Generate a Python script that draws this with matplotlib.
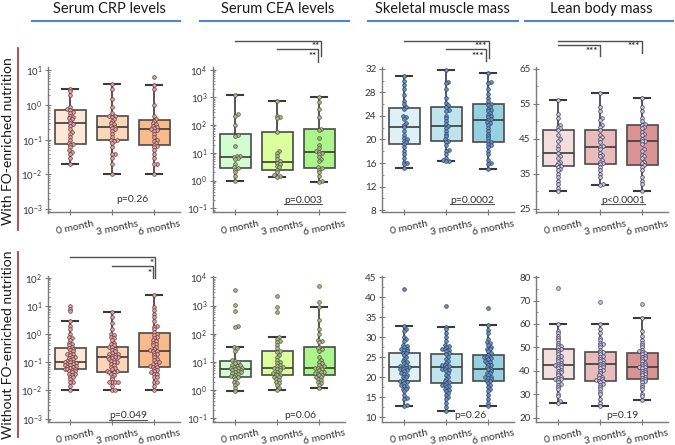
import numpy as np
import matplotlib
matplotlib.use("Agg")
import matplotlib.pyplot as plt
from matplotlib.lines import Line2D
from matplotlib.ticker import LogLocator, NullFormatter, FixedLocator, LogFormatterSciNotation
import matplotlib.transforms as mtrans

plt.rcParams['font.family'] = ['Lato', 'DejaVu Sans']

W, H = 675, 445
groups = ["0 month", "3 months", "6 months"]
col_titles = ["Serum CRP levels", "Serum CEA levels", "Skeletal muscle mass", "Lean body mass"]
row_labels = ["With FO-enriched nutrition", "Without FO-enriched nutrition"]

# ---------------- With FO-enriched nutrition ----------------
crp_w_0 = [3.0, 2.5, 2.0, 0.9, 0.75, 0.7, 0.65, 0.6, 0.5, 0.45, 0.42, 0.4, 0.35, 0.3, 0.28, 0.25, 0.2,
           0.17, 0.15, 0.12, 0.1, 0.08, 0.075, 0.07, 0.06, 0.05, 0.045, 0.04, 0.03, 0.02]
crp_w_3 = [4.0, 3.0, 1.5, 0.9, 0.6, 0.5, 0.48, 0.45, 0.4, 0.35, 0.3, 0.28, 0.25, 0.24, 0.22, 0.2, 0.18,
           0.15, 0.12, 0.1, 0.1, 0.09, 0.08, 0.06, 0.04, 0.04, 0.03, 0.02, 0.01]
crp_w_6 = [6.5, 3.7, 3.0, 1.0, 0.5, 0.4, 0.35, 0.3, 0.28, 0.25, 0.24, 0.22, 0.2, 0.19, 0.18, 0.15, 0.12,
           0.1, 0.09, 0.08, 0.07, 0.065, 0.06, 0.05, 0.04, 0.03, 0.02, 0.02, 0.01]
crp_w_q1 = [0.075, 0.10, 0.07]
crp_w_med = [0.30, 0.24, 0.20]
crp_w_q3 = [0.70, 0.49, 0.37]
crp_w_lo = [0.02, 0.01, 0.01]
crp_w_hi = [3.0, 4.2, 3.7]

cea_w_0 = [1200, 250, 220, 100, 45, 40, 18, 8, 7.5, 7, 6.5, 6, 4, 3, 2.8, 2.5, 2, 1.5, 1.0]
cea_w_3 = [750, 220, 200, 180, 58, 12, 10, 8, 6, 5, 4.5, 4, 3.5, 3, 2.5, 2, 1.6, 1.5, 1.4]
cea_w_6 = [1000, 700, 400, 200, 75, 65, 35, 20, 15, 12, 11, 10, 9, 7, 6, 5, 3, 2.8, 2.5, 2, 1.5, 1.0, 0.9]
cea_w_q1 = [2.9, 2.5, 2.8]
cea_w_med = [7.0, 4.7, 10.5]
cea_w_q3 = [47, 58, 75]
cea_w_lo = [1.0, 1.4, 0.9]
cea_w_hi = [1200, 750, 1000]

smm_w_0 = [30.8, 30.0, 29.2, 28.5, 27.5, 26.5, 26.0, 25.5, 25.2, 24.0, 23.8, 23.5, 22.8, 22.5, 22.1, 21.5,
           20.8, 20.2, 20.0, 19.8, 19.5, 19.2, 18.8, 18.0, 17.5, 16.8, 16.2, 16.0, 15.8, 15.1]
smm_w_3 = [31.8, 29.8, 29.5, 28.5, 27.0, 26.2, 25.8, 25.5, 25.0, 24.8, 24.0, 23.6, 23.2, 22.6, 22.3, 22.0,
           21.5, 21.0, 20.6, 20.0, 19.8, 19.5, 19.0, 18.2, 18.0, 17.5, 16.8, 16.5, 16.4, 16.3]
smm_w_6 = [31.3, 29.8, 29.6, 28.5, 27.8, 27.0, 26.5, 26.0, 25.8, 25.5, 25.2, 25.0, 24.8, 24.5, 24.2, 24.0,
           23.8, 23.5, 23.3, 23.0, 22.8, 22.5, 22.0, 21.5, 21.0, 20.6, 20.2, 19.8, 19.5, 19.3, 19.0, 18.8,
           18.0, 17.5, 16.5, 16.0, 15.8, 15.0]
smm_w_q1 = [19.3, 19.7, 19.5]
smm_w_med = [22.1, 22.3, 23.3]
smm_w_q3 = [25.4, 25.5, 26.0]
smm_w_lo = [15.1, 16.3, 15.0]
smm_w_hi = [30.8, 31.8, 31.3]

lbm_w_0 = [56, 52, 51, 49, 48.5, 48, 47.5, 46, 45, 44.5, 43, 42, 41, 40, 39.5, 38.5, 38, 37.5, 37.2, 37,
           36.5, 36, 35, 34, 33, 32, 31, 30]
lbm_w_3 = [58, 54, 53, 51, 50.5, 49, 48.5, 47.6, 46, 45.5, 45, 44, 43, 42.7, 42, 41, 40.5, 40, 39, 38.5,
           38, 37.8, 37, 36, 35, 34, 32, 31.8]
lbm_w_6 = [56.7, 54, 53, 51, 50, 49.2, 49, 48.5, 48, 47, 46.5, 46, 45, 44.5, 44.3, 43.5, 42, 41.5, 40.5,
           40, 39.5, 38.5, 38, 37.5, 37, 36, 34, 33, 32, 30]
lbm_w_q1 = [37.2, 37.8, 37.5]
lbm_w_med = [41.0, 42.7, 44.3]
lbm_w_q3 = [47.5, 47.6, 49.0]
lbm_w_lo = [30.0, 31.8, 30.0]
lbm_w_hi = [56.0, 58.0, 56.7]

# ---------------- Without FO-enriched nutrition ----------------
crp_n_0 = [10, 8, 6.5, 3.0, 2.0, 1.5, 1.0, 0.8, 0.7, 0.6, 0.5, 0.45, 0.4, 0.35, 0.33, 0.3, 0.28, 0.25,
           0.22, 0.2, 0.19, 0.18, 0.16, 0.15, 0.14, 0.13, 0.12, 0.11, 0.105, 0.1, 0.1, 0.095, 0.09, 0.085,
           0.08, 0.08, 0.075, 0.07, 0.07, 0.065, 0.06, 0.06, 0.058, 0.055, 0.05, 0.05, 0.045, 0.04, 0.04,
           0.035, 0.03, 0.03, 0.025, 0.02, 0.02, 0.015, 0.01]
crp_n_3 = [6.2, 4.0, 2.5, 1.5, 1.0, 0.9, 0.8, 0.7, 0.6, 0.5, 0.45, 0.4, 0.35, 0.34, 0.3, 0.28, 0.25,
           0.22, 0.2, 0.19, 0.18, 0.17, 0.16, 0.155, 0.15, 0.14, 0.13, 0.12, 0.11, 0.1, 0.1, 0.09, 0.08,
           0.07, 0.065, 0.06, 0.05, 0.05, 0.047, 0.045, 0.04, 0.035, 0.03, 0.025, 0.02, 0.02, 0.02, 0.02,
           0.015, 0.01, 0.01]
crp_n_6 = [25, 9, 7, 5, 4, 3, 2, 1.8, 1.5, 1.2, 1.0, 0.9, 0.8, 0.7, 0.6, 0.55, 0.5, 0.45, 0.4, 0.35, 0.3,
           0.28, 0.26, 0.25, 0.22, 0.2, 0.18, 0.15, 0.13, 0.12, 0.1, 0.1, 0.09, 0.08, 0.075, 0.07, 0.066,
           0.06, 0.055, 0.05, 0.045, 0.04, 0.04, 0.03, 0.03, 0.02, 0.02, 0.015, 0.01]
crp_n_q1 = [0.058, 0.047, 0.066]
crp_n_med = [0.105, 0.155, 0.26]
crp_n_q3 = [0.33, 0.34, 1.05]
crp_n_lo = [0.01, 0.01, 0.01]
crp_n_hi = [3.0, 6.2, 25]

cea_n_0 = [3700, 1070, 660, 190, 170, 33, 30, 25, 12, 11, 10, 9, 8, 7.5, 7, 6.5, 6, 6, 5.8, 5.5, 5.2, 5,
           4.8, 4.5, 4.2, 4, 3.8, 3.5, 3.2, 3.0, 2.8, 2.5, 2.0, 1.8, 1.5, 1.2, 0.9]
cea_n_3 = [2200, 870, 610, 76, 65, 55, 50, 40, 30, 25, 22, 18, 15, 12, 10, 9, 8, 7, 6.5, 6.2, 6, 5.5, 5,
           4.5, 4, 3.8, 3.5, 3.3, 3.0, 2.8, 2.5, 2.2, 2.0, 1.8, 1.5, 1.2, 1.0]
cea_n_6 = [5000, 1300, 890, 300, 150, 100, 60, 55, 50, 35, 30, 28, 25, 15, 12, 10, 9, 8, 7, 6.5, 6.2, 6,
           5.5, 5, 4.5, 4.2, 4, 3.8, 3.5, 3.3, 3.0, 2.8, 2.5, 2.2, 2.0, 1.8, 1.5, 1.2]
cea_n_q1 = [3.0, 3.3, 3.3]
cea_n_med = [5.5, 6.2, 6.2]
cea_n_q3 = [11, 25, 35]
cea_n_lo = [0.9, 1.0, 1.2]
cea_n_hi = [33, 76, 890]

smm_n_0 = [42, 32.9, 32.0, 31.5, 30.0, 29.5, 29.0, 28.0, 27.8, 27.5, 27.2, 27.0, 26.8, 26.5, 26.2, 26.0,
           25.5, 25.0, 24.5, 24.0, 23.8, 23.5, 23.0, 22.8, 22.6, 22.5, 22.3, 22.2, 22.0, 21.8, 21.5, 21.0,
           20.8, 20.5, 20.2, 20.0, 19.5, 19.2, 19.0, 18.8, 18.5, 18.0, 17.8, 17.5, 17.2, 17.0, 16.5, 15.5,
           14.8, 14.5, 13.0, 12.8]
smm_n_3 = [37.9, 32.7, 32.0, 31.0, 30.0, 29.0, 28.0, 27.8, 27.5, 27.2, 27.0, 26.8, 26.5, 26.0, 25.8, 25.0,
           24.5, 24.0, 23.5, 23.2, 23.0, 22.8, 22.5, 22.2, 22.0, 21.8, 21.5, 21.0, 20.5, 20.0, 19.5, 19.0,
           18.8, 18.5, 18.2, 18.0, 17.8, 17.5, 17.0, 16.8, 16.5, 16.0, 15.5, 15.0, 14.5, 13.5, 12.5, 11.6]
smm_n_6 = [37.3, 33.1, 31.8, 31.0, 29.5, 28.8, 28.5, 28.0, 27.5, 27.2, 27.0, 26.5, 26.0, 25.6, 25.2, 25.0,
           24.8, 24.5, 24.0, 23.8, 23.5, 23.2, 23.0, 22.5, 22.2, 22.0, 21.5, 21.2, 21.0, 20.5, 20.2, 20.0,
           19.8, 19.5, 19.2, 19.0, 18.5, 18.0, 17.5, 17.0, 16.5, 15.5, 14.5, 13.5, 12.8]
smm_n_q1 = [19.1, 18.5, 19.1]
smm_n_med = [22.5, 22.5, 22.2]
smm_n_q3 = [26.0, 25.8, 25.6]
smm_n_lo = [12.8, 11.6, 12.8]
smm_n_hi = [32.9, 32.7, 33.1]

lbm_n_0 = [75.4, 60, 57, 56, 55, 54, 53, 52, 51, 50.5, 50, 49.5, 49, 48, 47, 46.5, 46, 45, 44.5, 44, 43.5,
           43, 42.5, 42.4, 42, 41.5, 41, 40.5, 40, 39.5, 39, 38, 37.5, 37, 36.5, 36.4, 36, 35, 34.5, 34, 33,
           32, 30, 29, 27, 26.2]
lbm_n_3 = [69.3, 59.8, 58, 56, 54, 53, 52, 51.5, 51, 50, 49, 48.1, 48, 47, 46.5, 46, 45, 44.5, 44, 43.5,
           43, 42.5, 42, 41.5, 41, 40.5, 40, 39, 38, 37.5, 37, 36.5, 36, 35.8, 35.5, 35, 34.5, 34, 33, 32, 31,
           30, 28, 26, 24.8]
lbm_n_6 = [68.6, 62.5, 57, 55, 53, 52, 51, 50, 49, 48.5, 48, 47.6, 47, 46.5, 46, 45.5, 45, 44, 43.5, 43,
           42.5, 42, 41.7, 41.5, 41, 40.5, 40, 39.5, 39, 38.5, 38, 37.5, 37, 36.5, 36, 35.5, 35, 34, 33, 32,
           30, 29, 27.3]
lbm_n_q1 = [36.4, 35.8, 36.5]
lbm_n_med = [42.4, 43.0, 41.7]
lbm_n_q3 = [49.5, 48.1, 47.6]
lbm_n_lo = [26.2, 24.8, 27.3]
lbm_n_hi = [60.0, 59.8, 62.5]

# p-values (text, underlined?)
p_w = [("p=0.26", False), ("p=0.003", True), ("p=0.0002", True), ("p<0.0001", True)]
p_n = [("p=0.049", True), ("p=0.06", False), ("p=0.26", False), ("p=0.19", False)]

# significance comparisons (group i, group j, stars)
sig_cea_w = [(0, 2, "**"), (1, 2, "**")]
sig_smm_w = [(0, 2, "***"), (1, 2, "***")]
sig_lbm_w = [(0, 2, "***"), (0, 1, "***")]
sig_crp_n = [(0, 2, "*"), (1, 2, "*")]

# ---------------- styles / layout ----------------
box_colors = [["#fde8d8", "#fcd6b8", "#f9bb8c"],
              ["#d2fcd2", "#dcff9e", "#acf58a"],
              ["#def1f7", "#bfe4ee", "#95d1e1"],
              ["#f3dede", "#e9bcbc", "#da9393"]]
pt_face = ["#dca3a3", "#aab68c", "#6a90bf", "#cbc6de"]
pt_edge = ["#6b3a3a", "#4f5a3a", "#2c4566", "#3d3d5c"]

col_left = [48, 213, 382, 536]
col_w = 132
row_top = [67, 276]
row_h = 145.5

panels = [
    # row 0
    dict(r=0, c=0, data=[crp_w_0, crp_w_3, crp_w_6], q1=crp_w_q1, med=crp_w_med, q3=crp_w_q3, lo=crp_w_lo, hi=crp_w_hi,
         log=True, ylim=(10**-3.1, 10**1.1), ticks=[1e-3, 1e-2, 1e-1, 1e0, 1e1], p=p_w[0], pxy=(132, 200), sig=None),
    dict(r=0, c=1, data=[cea_w_0, cea_w_3, cea_w_6], q1=cea_w_q1, med=cea_w_med, q3=cea_w_q3, lo=cea_w_lo, hi=cea_w_hi,
         log=True, ylim=(10**-1.15, 10**4.1), ticks=[1e-1, 1e0, 1e1, 1e2, 1e3, 1e4], p=p_w[1], pxy=(303, 200.5), sig=sig_cea_w),
    dict(r=0, c=2, data=[smm_w_0, smm_w_3, smm_w_6], q1=smm_w_q1, med=smm_w_med, q3=smm_w_q3, lo=smm_w_lo, hi=smm_w_hi,
         log=False, ylim=(7.6, 32.3), ticks=[8, 12, 16, 20, 24, 28, 32], minor=2, p=p_w[2], pxy=(472, 200.5), sig=sig_smm_w),
    dict(r=0, c=3, data=[lbm_w_0, lbm_w_3, lbm_w_6], q1=lbm_w_q1, med=lbm_w_med, q3=lbm_w_q3, lo=lbm_w_lo, hi=lbm_w_hi,
         log=False, ylim=(24, 65.5), ticks=[25, 35, 45, 55, 65], minor=5, p=p_w[3], pxy=(623, 200.5), sig=sig_lbm_w),
    # row 1
    dict(r=1, c=0, data=[crp_n_0, crp_n_3, crp_n_6], q1=crp_n_q1, med=crp_n_med, q3=crp_n_q3, lo=crp_n_lo, hi=crp_n_hi,
         log=True, ylim=(10**-3.1, 10**2.06), ticks=[1e-3, 1e-2, 1e-1, 1e0, 1e1, 1e2], p=p_n[0], pxy=(128, 415.5), sig=sig_crp_n),
    dict(r=1, c=1, data=[cea_n_0, cea_n_3, cea_n_6], q1=cea_n_q1, med=cea_n_med, q3=cea_n_q3, lo=cea_n_lo, hi=cea_n_hi,
         log=True, ylim=(10**-1.12, 10**4.05), ticks=[1e-1, 1e0, 1e1, 1e2, 1e3, 1e4], p=p_n[1], pxy=(300, 415), sig=None),
    dict(r=1, c=2, data=[smm_n_0, smm_n_3, smm_n_6], q1=smm_n_q1, med=smm_n_med, q3=smm_n_q3, lo=smm_n_lo, hi=smm_n_hi,
         log=False, ylim=(9.0, 45.3), ticks=[10, 15, 20, 25, 30, 35, 40, 45], minor=2.5, p=p_n[2], pxy=(470, 415.5), sig=None),
    dict(r=1, c=3, data=[lbm_n_0, lbm_n_3, lbm_n_6], q1=lbm_n_q1, med=lbm_n_med, q3=lbm_n_q3, lo=lbm_n_lo, hi=lbm_n_hi,
         log=False, ylim=(18.3, 80.5), ticks=[20, 30, 40, 50, 60, 70, 80], minor=5, p=p_n[3], pxy=(622, 415.5), sig=None),
]

# bracket layout (pixel y from top): per sig entry -> (y_line, y_drop_end, dx_right, y_star)
bracket_layout = {
    (0, 1): [(41, 56, 2, 45.5), (49, 62, -1, 55.5)],
    (0, 2): [(41, 58, 0.5, 45.5), (49, 61, -2, 55.5)],
    (0, 3): [(41, 53, 0, 45.7), (44.5, 56, 0, 50)],
    (1, 0): [(257, 278, 1, 262), (266, 278, -1, 272)],
}

GRAY = "#7a7a7a"

fig = plt.figure(figsize=(W / 100, H / 100), dpi=100)
fig.patch.set_facecolor("white")


def fx(x):
    return x / W


def fy(y):
    return 1 - y / H


def swarm_x(ax, xc, vals, d):
    vals = np.asarray(vals, float)
    pts = ax.transData.transform(np.column_stack([np.full(len(vals), float(xc)), vals]))
    x0 = pts[0, 0]
    ys = pts[:, 1]
    order = np.argsort(ys)
    cands = [0.0]
    for k in range(1, 12):
        cands += [k * 0.4 * d, -k * 0.4 * d]
    placed = []
    xs = np.empty(len(vals))
    for i in order:
        y = ys[i]
        chosen = cands[-1]
        for cnd in cands:
            if all((cnd - px) ** 2 + (y - py) ** 2 >= (0.62 * d) ** 2 for px, py in placed):
                chosen = cnd
                break
        placed.append((chosen, y))
        xs[i] = x0 + chosen
    inv = ax.transData.inverted()
    return inv.transform(np.column_stack([xs, ys]))[:, 0]


ptext = []
for P in panels:
    r, c = P["r"], P["c"]
    L = col_left[c]
    T = row_top[r]
    ax = fig.add_axes([fx(L), fy(T + row_h), col_w / W, row_h / H])
    ax.set_facecolor("none")
    pos = [1, 2, 3]
    ax.set_xlim(0.47, 3.61)
    if P["log"]:
        ax.set_yscale("log")
    ax.set_ylim(*P["ylim"])

    stats = []
    for k in range(3):
        stats.append(dict(med=P["med"][k], q1=P["q1"][k], q3=P["q3"][k],
                          whislo=P["lo"][k], whishi=P["hi"][k], fliers=[], label=groups[k]))
    bp = ax.bxp(stats, positions=pos, widths=0.74, capwidths=0.38, patch_artist=True, showfliers=False,
                boxprops=dict(edgecolor="#4a4a4a", linewidth=1.2),
                medianprops=dict(color="#3a3a3a", linewidth=1.2),
                whiskerprops=dict(color="#3a3a3a", linewidth=1.2),
                capprops=dict(color="#3a3a3a", linewidth=1.5), zorder=2)
    for k, patch in enumerate(bp["boxes"]):
        patch.set_facecolor(box_colors[c][k])

    for k in range(3):
        xs = swarm_x(ax, pos[k], P["data"][k], 3.6)
        ax.scatter(xs, P["data"][k], s=7, facecolor=pt_face[c], edgecolor=pt_edge[c],
                   linewidth=0.5, zorder=3)

    for s in ["top", "right"]:
        ax.spines[s].set_visible(False)
    for s in ["left", "bottom"]:
        ax.spines[s].set_color(GRAY)
        ax.spines[s].set_linewidth(1.0)

    if P["log"]:
        ax.yaxis.set_major_locator(FixedLocator(P["ticks"]))
        ax.yaxis.set_major_formatter(LogFormatterSciNotation())
        ax.yaxis.set_minor_locator(LogLocator(base=10, subs=np.arange(2, 10), numticks=20))
        ax.yaxis.set_minor_formatter(NullFormatter())
    else:
        ax.set_yticks(P["ticks"])
        ax.yaxis.set_minor_locator(matplotlib.ticker.MultipleLocator(P["minor"]))
    ax.set_xticks(pos)
    ax.set_xticklabels(groups)
    ax.tick_params(axis="both", which="major", direction="inout", length=4, width=0.8, color=GRAY,
                   labelsize=7, labelcolor="#333333", pad=2)
    ax.tick_params(axis="y", which="minor", direction="in", length=1.5, width=0.6, color=GRAY)
    ax.tick_params(axis="x", pad=3)
    off = mtrans.ScaledTranslation(5 / 100, 0, fig.dpi_scale_trans)
    for lab in ax.get_xticklabels():
        lab.set_rotation(12)
        lab.set_ha("center")
        lab.set_fontsize(7.5)
        lab.set_transform(lab.get_transform() + off)

    # p-value
    t = fig.text(fx(P["pxy"][0]), fy(P["pxy"][1]), P["p"][0], ha="center", va="center",
                 fontsize=7.5, color="#333333")
    ptext.append((t, P["p"][1]))

    # significance brackets
    if P["sig"]:
        lay = bracket_layout[(r, c)]
        for (i, j, stars), (yl, yd, dxr, ys) in zip(P["sig"], lay):
            xi = ax.transData.transform((pos[i], 1.0))[0]
            xj = ax.transData.transform((pos[j], 1.0))[0]
            xr = xj + dxr
            fig.add_artist(Line2D([fx(xi), fx(xr), fx(xr)], [fy(yl), fy(yl), fy(yd)],
                                  transform=fig.transFigure, color="#505050", linewidth=1.0))
            fig.text(fx(xr - 2), fy(ys + 1), stars, ha="right", va="center", fontsize=7,
                     color="#333333", fontweight="bold")

# column titles + blue rules
title_cx = [109, 278, 442, 601]
rule_x = [(32, 180), (200, 349), (368, 518), (525, 673)]
for k in range(4):
    fig.text(fx(title_cx[k]), fy(9), col_titles[k], ha="center", va="center", fontsize=10.5, color="#1a1a1a")
    fig.add_artist(Line2D([fx(rule_x[k][0]), fx(rule_x[k][1])], [fy(20.7), fy(20.7)],
                          transform=fig.transFigure, color="#4a86d8", linewidth=1.5))

# row labels + red rules
row_cy = [141, 345]
red_y = [(48, 230), (252, 437)]
for k in range(2):
    fig.text(fx(8), fy(row_cy[k]), row_labels[k], rotation=90, ha="center", va="center",
             fontsize=10, color="#1a1a1a")
    fig.add_artist(Line2D([fx(18), fx(18)], [fy(red_y[k][0]), fy(red_y[k][1])],
                          transform=fig.transFigure, color="#b83a3a", linewidth=1.3))

# underline selected p-values
fig.canvas.draw()
rend = fig.canvas.get_renderer()
for t, ul in ptext:
    if ul:
        bb = t.get_window_extent(rend)
        fig.add_artist(Line2D([bb.x0 / W, bb.x1 / W], [(bb.y0 + 0.5) / H, (bb.y0 + 0.5) / H],
                              transform=fig.transFigure, color="#555555", linewidth=0.8))

fig.savefig("out.png", dpi=100, facecolor="white")
